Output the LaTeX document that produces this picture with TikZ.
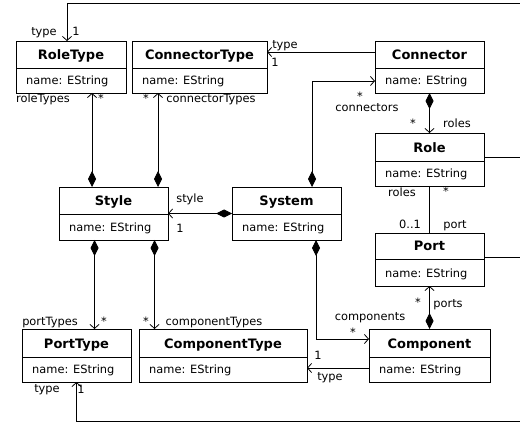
\documentclass[tikz,border=0pt]{standalone}
\usepackage{fontspec}
\setmainfont{DejaVu Sans}
\usetikzlibrary{arrows.meta}
\newcommand\umlclass[6]{%
  \node[classbox, minimum width={(#4-#2)*1pt}, minimum height={(#6-#3)*1pt}] (#1) at ({(#2+#4)/2},{(#3+#6)/2}) {};
  \draw[classline] (#2,#5) -- (#4,#5);
  \node[titletext] (#1T) at ({(#2+#4)/2},{#5-8.5}) {#1};
  \node[attrtext] (#1A) at ({#2+10},{#6-8.5}) {name: EString};
}
\begin{document}
\begin{tikzpicture}[x=1pt,y=-1pt,
  classbox/.style={draw=black, line width=0.8pt, rectangle, inner sep=0pt, outer sep=0pt, fill=white},
  classline/.style={draw=black, line width=0.8pt},
  titletext/.style={font=\fontsize{13}{15}\selectfont\bfseries, inner sep=0pt, anchor=base},
  attrtext/.style={font=\fontsize{11.4}{13}\selectfont, inner sep=0pt, anchor=base west},
  lab/.style={font=\fontsize{11.4}{13}\selectfont, inner sep=0pt, anchor=base},
  conn/.style={line width=0.8pt, draw=black},
  nav/.style={conn, -{Straight Barb[length=4pt,width=9pt]}},
  comp/.style={conn, {Diamond[length=16pt,width=8pt]}-{Straight Barb[length=4pt,width=9pt]}},
]
\fill[white] (0,0) rectangle (520,425);
\useasboundingbox (0,0) rectangle (520,425);
\clip (0,0) rectangle (520,425);

\umlclass{RoleType}{16}{41}{126}{68}{93}
\umlclass{ConnectorType}{132}{41}{267}{68}{93}
\umlclass{Connector}{375}{41}{484}{68}{93}
\umlclass{Role}{375}{133}{484}{161}{186}
\umlclass{Style}{59}{187}{168}{214}{240}
\umlclass{System}{232}{187}{341}{214}{240}
\umlclass{Port}{375}{233}{484}{259}{286}
\umlclass{PortType}{22}{329}{131}{357}{382}
\umlclass{ComponentType}{139}{329}{307}{357}{382}
\umlclass{Component}{369}{329}{490}{357}{382}

\coordinate (TR) at (530,3);
\coordinate (BR) at (530,421);

% compositions
\draw[comp] ([xshift=-21.5pt]Style.north) -- ([xshift=21pt]RoleType.south);
\draw[comp] ([xshift=44.5pt]Style.north) -- ([xshift=-41.5pt]ConnectorType.south);
\draw[comp] ([xshift=-19pt]Style.south) -- ([xshift=18pt]PortType.north);
\draw[comp] ([xshift=41pt]Style.south) -- ([xshift=-68.5pt]ComponentType.north);
\draw[comp] (System.west) -- (Style.east);
\draw[comp] ([xshift=25.5pt]System.north) |- ([yshift=-14pt]Connector.west);
\draw[comp] ([xshift=29.5pt]System.south) |- ([yshift=16.5pt]Component.west);
\draw[comp] (Connector.south) -- (Role.north);
\draw[comp] (Component.north) -- (Port.south);

% associations
\draw[nav] ([yshift=15pt]Connector.west) -- ([yshift=15pt]ConnectorType.east);
\draw[conn] (Role.south) -- (Port.north);
\draw[nav] ([yshift=-12.5pt]Component.west) -- ([yshift=-12.5pt]ComponentType.east);
\draw[nav] ([yshift=2.5pt]Role.east) -| (TR) -| ([xshift=-4pt]RoleType.north);
\draw[nav] ([yshift=2.5pt]Port.east) -| (BR) -| (PortType.south);

% labels
\node[lab] (l1) at (44,36) {type};
\node[lab] (l2) at (76,36) {1};
\node[lab] (l3) at (43,103) {roleTypes};
\node[lab] (l4) at (101,103) {*};
\node[lab] (l5) at (146,103) {*};
\node[lab] (l6) at (211,103) {connectorTypes};
\node[lab] (l7) at (285,49) {type};
\node[lab] (l8) at (275,67) {1};
\node[lab] (l9) at (360,101) {*};
\node[lab] (l10) at (367,112) {connectors};
\node[lab] (l11) at (413,128) {*};
\node[lab] (l12) at (457,128) {roles};
\node[lab] (l13) at (190,203) {style};
\node[lab] (l14) at (180,233) {1};
\node[lab] (l15) at (402,197) {roles};
\node[lab] (l16) at (446,196) {*};
\node[lab] (l17) at (410,229) {0..1};
\node[lab] (l18) at (455,229) {port};
\node[lab] (l19) at (418,306) {*};
\node[lab] (l20) at (448,307) {ports};
\node[lab] (l21) at (370,320) {components};
\node[lab] (l22) at (353,336) {*};
\node[lab] (l23) at (318,359) {1};
\node[lab] (l24) at (330,380) {type};
\node[lab] (l25) at (50,325) {portTypes};
\node[lab] (l26) at (104,325) {*};
\node[lab] (l27) at (146,325) {*};
\node[lab] (l28) at (214,325) {componentTypes};
\node[lab] (l29) at (47,392) {type};
\node[lab] (l30) at (81,393) {1};
\end{tikzpicture}
\end{document}
